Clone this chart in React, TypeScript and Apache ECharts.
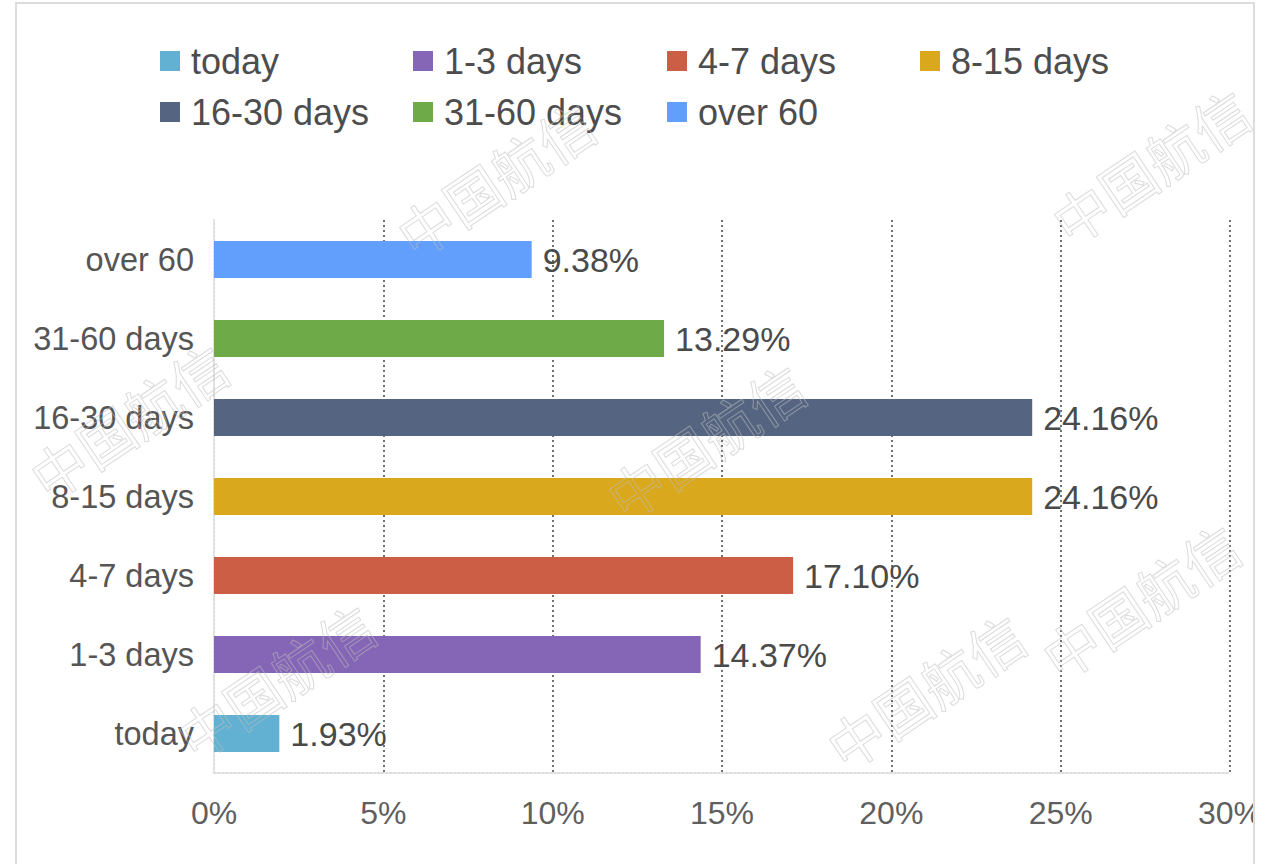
import React, { useEffect, useRef } from "react";
import * as echarts from "echarts";

const categories = ["today", "1-3 days", "4-7 days", "8-15 days", "16-30 days", "31-60 days", "over 60"];
const values = [1.93, 14.37, 17.1, 24.16, 24.16, 13.29, 9.38];
const colors = ["#63B1D2", "#8565B5", "#CC5E45", "#D9A81D", "#556581", "#6EAA47", "#629FFD"];
const xTicks = [0, 5, 10, 15, 20, 25, 30];

// legend layout: [name index, left, rowCenterY]
const legendSlots: [number, number, number][] = [
  [0, 160, 61],
  [1, 413, 61],
  [2, 667, 61],
  [3, 920, 61],
  [4, 160, 112],
  [5, 413, 112],
  [6, 667, 112],
];

const watermarks: [number, number][] = [
  [495, 178],
  [1150, 165],
  [128, 420],
  [705, 440],
  [275, 680],
  [925, 690],
  [1140, 600],
];

const FONT = "'Liberation Sans', Arial, Helvetica, sans-serif";

export default function App() {
  const ref = useRef<HTMLDivElement>(null);
  useEffect(() => {
    document.body.style.margin = "0";
    const chart = echarts.init(ref.current!, null, { renderer: "svg" });
    const series = categories.map((name, i) => ({
      name,
      type: "bar",
      stack: "all",
      barWidth: 37,
      itemStyle: { color: colors[i] },
      data: categories.map((_, j) => (j === i ? values[i] : "-")),
      label: {
        show: true,
        position: "right",
        distance: 11,
        fontFamily: FONT,
        fontSize: 34,
        color: "#4a4a4a",
        formatter: (p: any) => (p.value === "-" ? "" : Number(p.value).toFixed(2) + "%"),
      },
    }));
    const legends = legendSlots.map(([idx, left, cy]) => ({
      data: [categories[idx]],
      left,
      top: cy - 20,
      padding: 0,
      itemWidth: 20,
      itemHeight: 20,
      icon: "rect",
      selectedMode: false,
      textStyle: {
        fontFamily: FONT,
        fontSize: 36,
        color: "#4d4d4d",
        lineHeight: 40,
        padding: [0, 0, 0, 6],
      },
    }));
    chart.setOption({
      animation: false,
      backgroundColor: "#ffffff",
      legend: legends,
      grid: { left: 214, right: 34, top: 220, bottom: 91, containLabel: false },
      xAxis: {
        type: "value",
        min: xTicks[0],
        max: xTicks[xTicks.length - 1],
        interval: 5,
        axisLine: { show: true, lineStyle: { color: "#dddddd", type: "dotted", width: 2 } },
        axisTick: { show: false },
        axisLabel: {
          margin: 24,
          fontFamily: FONT,
          fontSize: 32,
          color: "#5f5f5f",
          formatter: (v: number) => v + "%",
        },
        splitLine: {
          show: true,
          showMinLine: false,
          lineStyle: { color: "#707070", type: [2, 3], width: 2 },
        },
      },
      yAxis: {
        type: "category",
        data: categories,
        axisLine: { show: true, lineStyle: { color: "#dddddd", type: "dotted", width: 2 } },
        axisTick: { show: false },
        axisLabel: {
          margin: 20,
          fontFamily: FONT,
          fontSize: 32.5,
          color: "#555555",
        },
      },
      series,
      graphic: [
        ...watermarks.map(([x, y]) => ({
          type: "text",
          x,
          y,
          rotation: (34 * Math.PI) / 180,
          z: 100,
          silent: true,
          style: {
            text: "中国航信",
            font: "56px 'Noto Sans CJK SC'",
            fill: "rgba(255,255,255,0)",
            stroke: "rgba(190,190,190,0.55)",
            lineWidth: 1,
            align: "center",
            verticalAlign: "middle",
          },
        })),
        {
          type: "rect",
          z: 101,
          silent: true,
          shape: { x: 1255, y: 0, width: 20, height: 864 },
          style: { fill: "#ffffff" },
        },
        {
          type: "rect",
          z: 102,
          silent: true,
          shape: { x: 16, y: 3, width: 1238, height: 900 },
          style: { fill: "none", stroke: "#dcdcdc", lineWidth: 2 },
        },
      ],
    });
    return () => chart.dispose();
  }, []);
  return (
    <div
      ref={ref}
      style={{ position: "absolute", left: 0, top: 0, width: 1265, height: 864 }}
    />
  );
}
